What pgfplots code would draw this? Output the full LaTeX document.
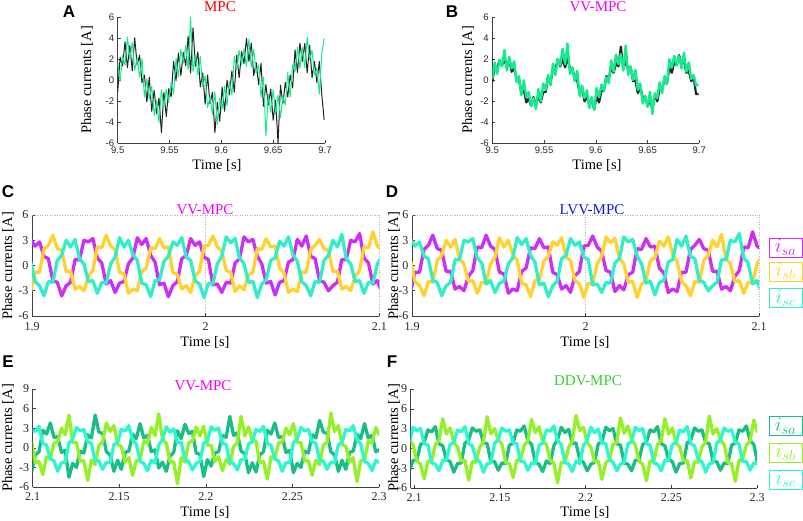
\documentclass[border=0pt]{standalone}
\usepackage{fontspec}
\setmainfont{Liberation Serif}
\newfontfamily\arialfont{Liberation Sans}
\usepackage{pgfplots}
\pgfplotsset{compat=1.18}
\usepackage{pgfplotstable}

\definecolor{sgreen}{RGB}{20,235,140}
\definecolor{dblack}{RGB}{35,35,35}
\definecolor{cmag}{RGB}{205,45,245}
\definecolor{cyel}{RGB}{255,210,50}
\definecolor{ctur}{RGB}{50,238,200}
\definecolor{edark}{RGB}{25,190,135}
\definecolor{eyg}{RGB}{150,240,40}
\definecolor{eaqua}{RGB}{45,248,205}
\definecolor{tred}{RGB}{255,0,0}
\definecolor{tmag}{RGB}{245,0,245}
\definecolor{tblue}{RGB}{20,20,230}
\definecolor{tgreen}{RGB}{50,210,50}

\pgfplotstableread{
t ag ak bg bk
9.50000 1.67 -1.13 0.12 -0.18
9.50234 -0.1 2.2 1.7 1.4
9.50469 2.35 1.35 0.61 1.11
9.50703 1.45 3.65 1.93 1.93
9.50938 4.1 1.2 1.33 1.43
9.51172 2.0 3.3 2.9 2.0
9.51406 3.6 0.9 0.93 1.23
9.51641 0.95 4.05 2.23 2.03
9.51875 2.15 1.45 1.11 0.81
9.52109 0.3 2.4 1.8 1.2
9.52344 2.07 -0.23 -0.18 0.12
9.52578 -1.6 0.5 0.4 0.1
9.52813 0.13 -2.07 -1.42 -1.32
9.53047 -1.8 0.3 0 -0.8
9.53281 -0.55 -2.95 -1.61 -2.11
9.53516 -3.35 -0.95 -1.13 -1.73
9.53750 -1.9 -3.2 -2.43 -2.43
9.53984 -4.0 -1.7 -1.7 -1.6
9.54219 -0.9 -5.0 -2.73 -2.33
9.54453 -2.55 -1.15 -0.83 -1.53
9.54688 -0.85 -3.45 -2.01 -2.11
9.54922 -2.1 -0.8 -0.3 -1.1
9.55156 -0.17 -1.57 -0.92 -1.12
9.55391 -1.3 1.8 0.5 0.3
9.55625 2.07 -0.03 -0.48 -0.28
9.55859 0.3 2.6 1.6 1.1
9.56094 2.95 0.45 0.51 1.01
9.56328 1.65 2.65 2.03 2.03
9.56563 3.3 1.4 1.43 1.33
9.56797 1.0 4.2 3.0 2.0
9.57031 6.0 0.7 1.53 1.23
9.57266 0.85 5.0 3.5 2.13
9.57500 2.35 1.35 0.61 1.11
9.57734 0.5 2.7 1.2 1.2
9.57969 2.27 -0.63 -0.08 0.02
9.58203 -0.6 0.7 0.9 0
9.58438 0.43 -2.27 -1.52 -1.22
9.58672 -2.6 0.5 -0.5 -0.7
9.58906 -1.55 -2.25 -1.71 -2.01
9.59141 -3.25 -1.15 -0.93 -1.53
9.59375 -1.1 -5.0 -2.63 -2.33
9.59609 -4.2 -2.1 -1.6 -1.9
9.59844 -1.7 -3.9 -2.83 -2.73
9.60078 -2.75 -0.65 -0.73 -1.53
9.60313 -0.55 -2.95 -1.61 -2.11
9.60547 -2.4 0 -0.4 -1.0
9.60781 -0.07 -1.37 -1.02 -1.02
9.61016 -1.4 0.9 0.3 0.4
9.61250 2.27 -1.13 -0.28 0.12
9.61484 1.0 2.4 1.9 1.2
9.61719 2.85 0.25 0.81 0.71
9.61953 1.45 2.75 2.43 1.63
9.62188 3.0 1.6 1.53 1.33
9.62422 1.3 4.0 2.5 3.2
9.62656 3.9 1.8 0.93 1.13
9.62891 1.25 3.55 3.3 1.83
9.63125 2.95 0.45 0.51 1.01
9.63359 0.7 1.7 1.3 1.3
9.63594 1.47 -0.43 0.02 -0.08
9.63828 -1.6 1.6 1.0 0
9.64063 0.33 -2.47 -0.92 -1.22
9.64297 -5.3 -0.4 -0.3 -0.6
9.64531 -1.35 -2.35 -2.21 -1.71
9.64766 -3.05 -0.85 -1.53 -1.53
9.65000 -0.9 -3.8 -2.53 -2.43
9.65234 -3.2 -1.9 -1.1 -2.0
9.65469 -1.4 -6.0 -3.2 -2.63
9.65703 -3.55 -0.45 -1.23 -1.43
9.65938 -1.55 -2.25 -1.71 -2.01
9.66172 -2.3 -0.2 -0.2 -0.8
9.66406 0.73 -1.57 -1.22 -0.92
9.66641 -1.6 0.5 0.4 0.1
9.66875 1.47 -0.73 -0.38 -0.28
9.67109 0.8 2.9 2.0 1.2
9.67344 3.15 0.75 1.21 0.71
9.67578 1.15 3.55 2.33 1.73
9.67813 3.1 1.8 1.43 1.43
9.68047 1.2 3.5 2.3 2.4
9.68281 4.1 0.7 1.13 1.53
9.68516 1.95 3.35 2.63 1.93
9.68750 2.85 0.25 0.81 0.71
9.68984 0.5 1.8 1.7 0.9
9.69219 1.17 -0.23 0.12 -0.08
9.69453 -1.3 1.8 0.5 0.3
9.69688 2.5 -1.37 -0.5 -1.32
9.69922 4.0 -3.8 -0.4 -1.3
}\tabAB

\pgfplotstableread{
t a b c
1.89920 3.1 -3.1 0.5
1.90176 2.3 -0.8 -1.9
1.90432 2.8 -0.8 -2.4
1.90688 1.1 1.9 -3.6
1.90944 0.8 2.4 -1.9
1.91200 -1.8 3.6 -2.0
1.91456 -2.0 2.0 0.6
1.91712 -3.6 1.8 1.2
1.91968 -2.4 -0.7 3.0
1.92224 -2.0 -0.7 2.2
1.92480 0.7 -2.8 3.1
1.92736 0.7 -2.5 0.8
1.92992 3.0 -3.0 0.2
1.93248 2.8 -1.3 -1.9
1.93504 3.2 -0.6 -1.8
1.93760 0.9 2.2 -3.3
1.94016 0.3 2.1 -2.0
1.94272 -2.2 3.6 -2.1
1.94528 -1.8 2.3 0.2
1.94784 -3.2 1.9 1.0
1.95040 -2.1 -0.8 3.3
1.95296 -1.9 -1.0 2.2
1.95552 0.2 -3.3 3.0
1.95808 0.9 -2.8 1.3
1.96064 3.3 -3.0 0.6
1.96320 2.5 -0.7 -2.1
1.96576 3.2 -0.3 -2.3
1.96832 1.2 2.1 -3.7
1.97088 0.4 2.0 -1.8
1.97344 -2.3 3.2 -1.7
1.97600 -2.1 2.1 0.5
1.97856 -3.7 2.2 1.1
1.98112 -2.4 -0.8 2.8
1.98368 -1.9 -1.1 2.4
1.98624 0.8 -2.8 3.3
1.98880 1.2 -2.4 1.0
1.99136 3.2 -3.2 0.6
1.99392 2.4 -1.2 -1.8
1.99648 2.8 -0.7 -2.2
1.99904 1.0 2.3 -3.8
2.00160 0.7 2.4 -2.1
2.00416 -2.3 3.5 -2.2
2.00672 -2.2 2.2 0.2
2.00928 -3.2 1.7 1.1
2.01184 -2.0 -0.6 3.4
2.01440 -2.1 -0.8 2.7
2.01696 0.3 -3.1 3.2
2.01952 0.8 -2.4 0.9
2.02208 3.4 -2.9 0.2
2.02464 2.8 -1.1 -2.0
2.02720 3.1 -0.8 -1.9
2.02976 1.1 2.0 -3.8
2.03232 0.2 1.9 -2.2
2.03488 -2.1 3.2 -1.7
2.03744 -1.9 2.2 0.6
2.04000 -3.5 2.3 0.9
2.04256 -2.0 -0.3 2.9
2.04512 -1.8 -0.9 2.3
2.04768 0.4 -3.2 3.4
2.05024 0.7 -2.8 1.3
2.05280 3.1 -3.1 0.5
2.05536 2.3 -0.8 -1.9
2.05792 3.5 -0.8 -2.4
2.06048 1.1 1.9 -3.6
2.06304 0.8 2.4 -1.9
2.06560 -1.8 3.1 -2.0
2.06816 -2.0 2.0 0.6
2.07072 -3.0 1.8 1.2
2.07328 -2.4 -0.7 3.0
2.07584 -2.0 -0.7 2.2
2.07840 0.7 -2.8 3.7
2.08096 0.7 -2.5 0.8
2.08352 3.0 -3.0 0.2
2.08608 2.8 -1.3 -1.9
2.08864 3.8 -0.6 -1.8
2.09120 0.9 2.2 -3.3
2.09376 0.3 2.1 -2.0
2.09632 -2.2 4.0 -2.1
2.09888 -1.8 2.3 0.2
2.10144 -3.2 1.9 1.0
}\tabCD

\pgfplotstableread{
t a b c
2.09724 -2.3 1.1 0.9
2.09940 -3.7 1.0 2.8
2.10156 -1.1 -2.3 2.5
2.10372 -0.6 -2.1 3.3
2.10588 2.7 -4.1 0.7
2.10804 2.1 -1.4 0.4
2.11020 3.8 -1.7 -1.7
2.11236 1.6 0.7 -2.0
2.11452 1.7 0.9 -3.6
2.11668 -0.7 3.0 -2.3
2.11884 -0.4 2.0 -2.2
2.12100 -4.5 5.0 0.8
2.12316 -2.4 0.8 1.3
2.12532 -3.0 0.8 3.1
2.12748 -0.5 -2.0 2.6
2.12964 -0.8 -2.0 2.8
2.13180 2.0 -5.0 0.9
2.13396 1.5 -1.9 0.7
2.13612 5.0 -2.6 -2.0
2.13828 2.4 0.4 -2.0
2.14044 2.2 0.9 -3.3
2.14260 -0.6 3.8 -2.2
2.14476 -1.1 2.5 -2.3
2.14692 -3.6 3.4 0.5
2.14908 -1.9 0.5 0.8
2.15124 -3.3 0.2 2.8
2.15340 -0.7 -2.2 2.6
2.15556 -0.5 -1.5 3.4
2.15772 2.1 -4.2 1.2
2.15988 1.4 -2.0 0.6
2.16204 3.7 -1.9 -2.1
2.16420 1.5 1.0 -2.4
2.16636 1.9 0.7 -3.5
2.16852 -0.6 3.1 -1.9
2.17068 -0.3 1.9 -2.3
2.17284 -3.1 5.2 0.4
2.17500 -2.2 1.3 1.3
2.17716 -3.6 0.7 3.2
2.17932 -1.3 -2.1 2.4
2.18148 -0.7 -2.2 2.9
2.18364 2.6 -5.5 0.8
2.18580 1.4 -1.5 0.8
2.18796 3.6 -2.2 -1.7
2.19012 2.2 0.8 -2.1
2.19228 2.5 1.0 -3.4
2.19444 -0.8 3.2 -2.4
2.19660 -1.0 1.8 -2.1
2.19876 -4.4 3.3 0.7
2.20092 -1.8 0.4 1.0
2.20308 -2.8 0.4 3.2
2.20524 -0.8 -2.1 2.7
2.20740 -0.6 -1.4 3.0
2.20956 1.9 -3.5 0.7
2.21172 1.6 -1.8 0.5
2.21388 4.8 -2.5 -2.2
2.21604 1.9 0.2 -2.4
2.21820 2.3 0.8 -3.4
2.22036 -0.5 4.8 -1.8
2.22252 -0.9 1.8 -1.8
2.22468 -3.8 3.2 0.6
2.22684 -2.3 1.1 0.9
2.22900 -3.7 1.0 2.8
2.23116 -1.1 -2.3 2.5
2.23332 -0.6 -2.1 3.3
2.23548 2.7 -4.8 0.7
2.23764 2.1 -1.4 0.4
2.23980 3.8 -1.7 -1.7
2.24196 1.6 0.7 -2.0
2.24412 1.7 0.9 -3.6
2.24628 -0.7 3.0 -2.3
2.24844 -0.4 2.0 -2.2
2.25060 -3.8 3.7 0.8
2.25276 -2.4 0.8 1.3
2.25492 -3.0 0.8 3.1
2.25708 -0.5 -2.0 2.6
2.25924 -0.8 -2.0 2.8
2.26140 2.0 -4.2 0.9
2.26356 1.5 -1.9 0.7
2.26572 4.2 -2.6 -2.0
2.26788 2.4 0.4 -2.0
2.27004 2.2 0.9 -3.3
2.27220 -0.6 5.3 -2.2
2.27436 -1.1 2.5 -2.3
2.27652 -3.6 3.4 0.5
2.27868 -1.9 0.5 0.8
2.28084 -3.3 0.2 2.8
2.28300 -0.7 -2.2 2.6
2.28516 -0.5 -1.5 3.4
2.28732 2.1 -5.2 1.2
2.28948 1.4 -2.0 0.6
2.29164 3.7 -1.9 -2.1
2.29380 1.5 1.0 -2.4
2.29596 1.9 0.7 -3.5
2.29812 -0.6 3.1 -1.9
2.30028 -0.3 1.9 -2.3
}\tabE

\pgfplotstableread{
t a b c
2.09724 -3.4 1.3 1.0
2.09940 -1.8 0.5 3.2
2.10156 -1.8 -1.9 2.7
2.10372 0.6 -2.4 3.0
2.10588 0.9 -4.6 0.7
2.10804 2.8 -1.9 0.5
2.11020 2.5 -2.0 -2.2
2.11236 3.3 0.6 -2.4
2.11452 0.7 1.2 -3.4
2.11668 0.4 4.5 -1.8
2.11884 -1.7 2.2 -1.8
2.12100 -2.0 3.1 0.6
2.12316 -3.6 0.8 0.9
2.12532 -2.3 0.2 2.8
2.12748 -2.2 -1.9 2.5
2.12964 0.8 -1.8 3.3
2.13180 1.3 -4.8 0.7
2.13396 3.1 -2.0 0.4
2.13612 2.6 -2.1 -1.7
2.13828 2.8 0.2 -2.0
2.14044 0.9 1.0 -3.6
2.14260 0.7 4.8 -2.3
2.14476 -2.0 2.2 -2.2
2.14692 -2.0 3.0 0.8
2.14908 -3.3 1.3 1.3
2.15124 -2.2 0.6 3.1
2.15340 -2.3 -2.1 2.6
2.15556 0.5 -2.3 2.8
2.15772 0.8 -4.4 0.9
2.15988 2.8 -1.8 0.7
2.16204 2.6 -1.7 -2.0
2.16420 3.4 0.5 -2.0
2.16636 1.2 1.1 -3.3
2.16852 0.6 4.4 -2.2
2.17068 -2.1 2.4 -2.3
2.17284 -2.4 3.3 0.5
2.17500 -3.5 1.0 0.8
2.17716 -1.9 0.6 2.8
2.17932 -2.3 -1.8 2.6
2.18148 0.4 -2.2 3.4
2.18364 1.3 -5.2 1.2
2.18580 3.2 -2.1 0.6
2.18796 2.4 -2.2 -2.1
2.19012 2.9 0.2 -2.4
2.19228 0.8 1.1 -3.5
2.19444 0.8 5.0 -1.9
2.19660 -1.7 2.7 -2.3
2.19876 -2.1 3.2 0.4
2.20092 -3.4 0.9 1.3
2.20308 -2.4 0.2 3.2
2.20524 -2.1 -2.0 2.4
2.20740 0.7 -1.9 2.9
2.20956 1.0 -4.7 0.8
2.21172 3.2 -2.2 0.8
2.21388 2.7 -1.7 -1.7
2.21604 3.0 0.6 -2.1
2.21820 0.7 0.9 -3.4
2.22036 0.5 4.6 -2.4
2.22252 -2.2 2.3 -2.1
2.22468 -2.4 3.4 0.7
2.22684 -3.4 1.3 1.0
2.22900 -1.8 0.5 3.2
2.23116 -1.8 -1.9 2.7
2.23332 0.6 -2.4 3.0
2.23548 0.9 -4.9 0.7
2.23764 2.8 -1.9 0.5
2.23980 2.5 -2.0 -2.2
2.24196 3.3 0.6 -2.4
2.24412 0.7 1.2 -3.4
2.24628 0.4 4.5 -1.8
2.24844 -1.7 2.2 -1.8
2.25060 -2.0 3.1 0.6
2.25276 -3.6 0.8 0.9
2.25492 -2.3 0.2 2.8
2.25708 -2.2 -1.9 2.5
2.25924 0.8 -1.8 3.3
2.26140 1.3 -4.5 0.7
2.26356 3.1 -2.0 0.4
2.26572 2.6 -2.1 -1.7
2.26788 2.8 0.2 -2.0
2.27004 0.9 1.0 -3.6
2.27220 0.7 4.9 -2.3
2.27436 -2.0 2.2 -2.2
2.27652 -2.0 3.0 0.8
2.27868 -3.3 1.3 1.3
2.28084 -2.2 0.6 3.1
2.28300 -2.3 -2.1 2.6
2.28516 0.5 -2.3 2.8
2.28732 0.8 -5.0 0.9
2.28948 2.8 -1.8 0.7
2.29164 2.6 -1.7 -2.0
2.29380 3.4 0.5 -2.0
2.29596 1.2 1.1 -3.3
2.29812 0.6 4.3 -2.2
2.30028 -2.1 2.4 -2.3
}\tabF

\pgfplotsset{
  panel/.style={
    scale only axis, clip=true,
    axis x line*=bottom, axis y line*=left,
    axis line style={black!75, line width=0.6pt},
    tick style={black!75, line width=0.5pt},
    tick align=inside, major tick length=3pt,
    /pgf/number format/assume math mode=true,
    scaled x ticks=false, scaled y ticks=false,
    ticklabel style={font=\fontsize{12}{12}\selectfont, text=black!85},
  },
  panelab/.style={
    panel,
    ticklabel style={font=\arialfont\fontsize{9.5}{10}\selectfont, text=black!85},
    xticklabel style={yshift=0pt},
    xmin=9.5, xmax=9.7, ymin=-6, ymax=6,
    xtick={9.5,9.55,9.6,9.65,9.7},
    xticklabels={9.5,9.55,9.6,9.65,9.7},
    ytick={-6,-4,-2,0,2,4,6},
  },
  panelcd/.style={
    panel,
    xticklabel style={yshift=-3pt},
    xmin=1.9, xmax=2.1, ymin=-6, ymax=6,
    xtick={1.9,2,2.1}, xticklabels={1.9,2,2.1},
    ytick={-6,-3,0,3,6},
    xmajorgrids, grid style={dotted, gray!60, line width=0.5pt},
  },
  panelef/.style={
    panel,
    xticklabel style={yshift=-2.5pt},
    xmax=2.3, ymin=-6, ymax=9,
    xtick={2.1,2.15,2.2,2.25,2.3},
    xticklabels={2.1,2.15,2.2,2.25,2.3},
    ytick={-6,-3,0,3,6,9},
  },
  tr/.style={line width=3.3pt, line join=round},
}

\newcommand{\labfont}{\fontsize{14.5}{15}\selectfont}
\newcommand{\titfont}{\fontsize{15}{15}\selectfont}
\newcommand{\letfont}{\arialfont\bfseries\fontsize{17}{17}\selectfont}
\newcommand{\legfont}{\fontsize{20}{20}\selectfont}

\begin{document}
\begin{tikzpicture}[x=1pt,y=1pt]
\useasboundingbox (0pt,0pt) rectangle (803pt,521pt);

% ---------------- A ----------------
\begin{axis}[panelab, at={(117.7pt,377.7pt)}, anchor=south west, width=207.3pt, height=126pt]
\addplot[dblack, line width=1.0pt, line join=round] table[x=t,y=ak]{\tabAB};
\addplot[sgreen, line width=1.0pt, line join=round] table[x=t,y=ag]{\tabAB};
\end{axis}

% ---------------- B ----------------
\begin{axis}[panelab, at={(492.3pt,377.7pt)}, anchor=south west, width=207pt, height=126pt]
\addplot[dblack, line width=2.2pt, line join=round] table[x=t,y=bk]{\tabAB};
\addplot[sgreen, line width=2.4pt, line join=round] table[x=t,y=bg]{\tabAB};
\end{axis}

% ---------------- C ----------------
\begin{axis}[panelcd, at={(32pt,205pt)}, anchor=south west, width=347.3pt, height=101pt]
\draw[dotted, gray!60, line width=0.5pt] (rel axis cs:0,1) -- (rel axis cs:1,1);
\addplot[cmag, tr] table[x=t,y=a]{\tabCD};
\addplot[cyel, tr] table[x=t,y=b]{\tabCD};
\addplot[ctur, tr] table[x=t,y=c]{\tabCD};
\end{axis}

% ---------------- D ----------------
\begin{axis}[panelcd, at={(412pt,205pt)}, anchor=south west, width=347pt, height=101pt]
\draw[dotted, gray!60, line width=0.5pt] (rel axis cs:0,1) -- (rel axis cs:1,1);
\addplot[cmag, tr] table[x=t,y=b]{\tabCD};
\addplot[cyel, tr] table[x=t,y=c]{\tabCD};
\addplot[ctur, tr] table[x=t,y=a]{\tabCD};
\end{axis}

% ---------------- E ----------------
\begin{axis}[panelef, xmin=2.1, at={(32.6pt,34pt)}, anchor=south west, width=346.4pt, height=98pt]
\addplot[edark, tr] table[x=t,y=a]{\tabE};
\addplot[eyg, tr] table[x=t,y=b]{\tabE};
\addplot[eaqua, tr] table[x=t,y=c]{\tabE};
\end{axis}

% ---------------- F ----------------
\begin{axis}[panelef, xmin=2.098, at={(410.7pt,33pt)}, anchor=south west, width=346.3pt, height=99pt]
\addplot[edark, tr] table[x=t,y=a]{\tabF};
\addplot[eyg, tr] table[x=t,y=b]{\tabF};
\addplot[eaqua, tr] table[x=t,y=c]{\tabF};
\end{axis}

% titles
\node[font=\titfont, text=tred] at (220pt,514pt) {MPC};
\node[font=\titfont, text=tmag] at (598pt,514pt) {VV-MPC};
\node[font=\titfont, text=tmag] at (205pt,311.5pt) {VV-MPC};
\node[font=\titfont, text=tblue] at (592pt,311.5pt) {LVV-MPC};
\node[font=\titfont, text=tmag] at (203pt,135pt) {VV-MPC};
\node[font=\titfont, text=tgreen] at (588pt,140pt) {DDV-MPC};

% panel letters
\node[font=\letfont] at (69pt,509pt) {A};
\node[font=\letfont] at (452pt,509pt) {B};
\node[font=\letfont] at (8pt,329pt) {C};
\node[font=\letfont] at (392pt,329pt) {D};
\node[font=\letfont] at (8pt,159pt) {E};
\node[font=\letfont] at (392pt,159pt) {F};

% y labels
\node[font=\labfont, rotate=90] at (87pt,441pt) {Phase currents [A]};
\node[font=\labfont, rotate=90] at (468pt,441pt) {Phase currents [A]};
\node[font=\labfont, rotate=90] at (8pt,255pt) {Phase currents [A]};
\node[font=\labfont, rotate=90] at (394pt,255pt) {Phase currents [A]};
\node[font=\labfont, rotate=90] at (8pt,83pt) {Phase currents [A]};
\node[font=\labfont, rotate=90] at (394pt,83pt) {Phase currents [A]};

% x labels
\node[font=\labfont] at (217pt,356pt) {Time [s]};
\node[font=\labfont] at (597pt,356pt) {Time [s]};
\node[font=\labfont] at (205pt,179pt) {Time [s]};
\node[font=\labfont] at (585pt,179pt) {Time [s]};
\node[font=\labfont] at (205pt,9pt) {Time [s]};
\node[font=\labfont] at (585pt,9pt) {Time [s]};

% legends
\node[draw=cmag, line width=0.8pt, fill=white, text=cmag, minimum width=33pt, minimum height=19pt, inner sep=0pt, font=\legfont] at (785.5pt,273.5pt) {$i_{sa}$};
\node[draw=cyel, line width=0.8pt, fill=white, text=cyel, minimum width=33pt, minimum height=19pt, inner sep=0pt, font=\legfont] at (785.5pt,249.5pt) {$i_{sb}$};
\node[draw=ctur, line width=0.8pt, fill=white, text=ctur, minimum width=33pt, minimum height=19pt, inner sep=0pt, font=\legfont] at (785.5pt,223pt) {$i_{sc}$};

\node[draw=edark, line width=0.8pt, fill=white, text=edark, minimum width=33pt, minimum height=19pt, inner sep=0pt, font=\legfont] at (785.5pt,95pt) {$i_{sa}$};
\node[draw=eyg, line width=0.8pt, fill=white, text=eyg, minimum width=33pt, minimum height=19pt, inner sep=0pt, font=\legfont] at (785.5pt,68.5pt) {$i_{sb}$};
\node[draw=eaqua, line width=0.8pt, fill=white, text=eaqua, minimum width=33pt, minimum height=19pt, inner sep=0pt, font=\legfont] at (785.5pt,41.5pt) {$i_{sc}$};
\end{tikzpicture}
\end{document}
